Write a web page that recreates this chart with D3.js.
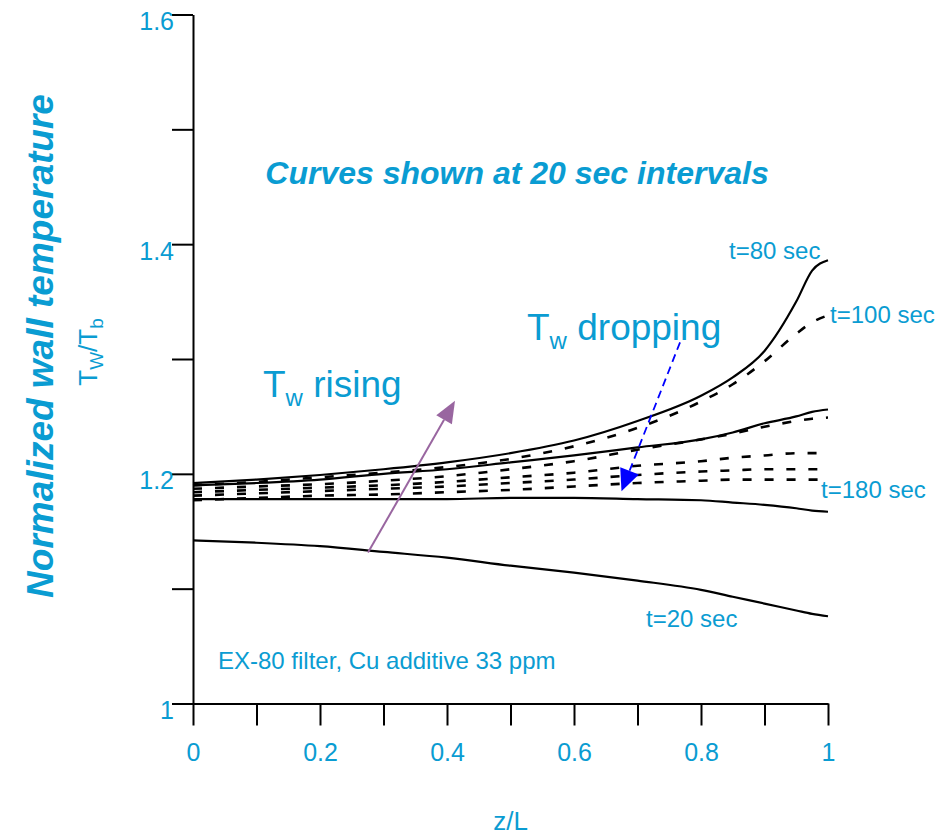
<!DOCTYPE html>
<html>
<head>
<meta charset="utf-8">
<script src="https://cdn.jsdelivr.net/npm/d3@7"></script>
<style>
  body { margin: 0; background: #fff; }
  text { font-family: "Liberation Sans", Arial, sans-serif; }
</style>
</head>
<body>
<div id="chart"></div>
<script>
// z/L positions shared by every curve
var zGrid = [0, 0.1, 0.2, 0.3, 0.4, 0.5, 0.6, 0.7, 0.8, 0.85, 0.9, 0.95, 0.975, 1]

// Tw/Tb, one array per time step
var t20  = [1.142, 1.140, 1.137, 1.132, 1.127, 1.120, 1.114, 1.107, 1.099, 1.093, 1.087, 1.081, 1.078, 1.076]
var t40  = [1.178, 1.178, 1.178, 1.178, 1.178, 1.179, 1.179, 1.178, 1.177, 1.175, 1.173, 1.170, 1.168, 1.167]
var t60  = [1.190, 1.192, 1.195, 1.200, 1.204, 1.210, 1.216, 1.223, 1.230, 1.236, 1.244, 1.250, 1.254, 1.256]
var t80  = [1.192, 1.195, 1.199, 1.204, 1.210, 1.218, 1.229, 1.246, 1.268, 1.284, 1.307, 1.350, 1.377, 1.386]
var t100 = [1.190, 1.193, 1.197, 1.201, 1.206, 1.213, 1.224, 1.240, 1.263, 1.278, 1.298, 1.322, 1.332, 1.338]
var t120 = [1.187, 1.189, 1.191, 1.194, 1.198, 1.204, 1.211, 1.221, 1.230, 1.235, 1.241, 1.246, 1.248, 1.249]
var t140 = [1.184, 1.186, 1.188, 1.190, 1.193, 1.197, 1.201, 1.207, 1.211, 1.214, 1.216, 1.218, 1.218, 1.218]
var t160 = [1.181, 1.183, 1.185, 1.187, 1.189, 1.192, 1.195, 1.199, 1.202, 1.203, 1.204, 1.204, 1.204, 1.204]
var t180 = [1.177, 1.179, 1.181, 1.182, 1.184, 1.186, 1.189, 1.192, 1.194, 1.195, 1.195, 1.195, 1.195, 1.195]

var solidSeries = [t20, t40, t60, t80]
var dashedSeries = [t100, t120, t140, t160, t180]

var xTicks = d3.range(0, 1.0001, 0.1)
var xTickLabels = ['0', '', '0.2', '', '0.4', '', '0.6', '', '0.8', '', '1']
var yTicks = [1, 1.1, 1.2, 1.3, 1.4, 1.5, 1.6]
var yTickLabels = ['1', '', '1.2', '', '1.4', '', '1.6']

// arrows in data units: [z, Tw/Tb] start -> tip
var risingArrow = [[0.2756, 1.1314], [0.4126, 1.2637]]
var droppingArrow = [[0.767, 1.3145], [0.6748, 1.1848]]

var blue = '#0a9cd2'
var width = 937, height = 837

var svg = d3.select('#chart').append('svg')
  .attr('width', width)
  .attr('height', height)

var xMap = d3.scaleLinear().domain([0, 1]).range([193, 828])
var yMap = d3.scaleLinear().domain([1, 1.6]).range([703.5, 14.5])

var g = svg.append('g')

// axes
var xAxis = d3.axisBottom(xMap)
  .tickValues(xTicks)
  .tickSize(22)
  .tickSizeOuter(0)
  .tickFormat((d, i) => xTickLabels[i])

var gX = g.append('g')
  .attr('transform', 'translate(0,' + yMap(1) + ')')
  .call(xAxis)
gX.select('.domain').style('stroke', '#000').style('stroke-width', 2)
gX.selectAll('.tick line').style('stroke', '#000').style('stroke-width', 2)
gX.selectAll('.tick text')
  .attr('y', 57)
  .attr('dy', 0)
  .style('font-size', '25px')
  .style('fill', blue)

var yAxis = d3.axisLeft(yMap)
  .tickValues(yTicks)
  .tickSize(21)
  .tickSizeOuter(0)
  .tickFormat((d, i) => yTickLabels[i])

var gY = g.append('g')
  .attr('transform', 'translate(' + xMap(0) + ',0)')
  .call(yAxis)
gY.select('.domain').style('stroke', '#000').style('stroke-width', 2)
gY.selectAll('.tick line').style('stroke', '#000').style('stroke-width', 2)
gY.selectAll('.tick text')
  .attr('x', -19)
  .attr('dy', 15)
  .style('font-size', '25px')
  .style('fill', blue)

// curves
var line = d3.line()
  .x((d, i) => xMap(zGrid[i]))
  .y(d => yMap(d))
  .curve(d3.curveMonotoneX)

g.selectAll('.solid')
  .data(solidSeries)
  .enter().append('path')
  .attr('class', 'solid')
  .attr('d', line)
  .style('fill', 'none')
  .style('stroke', '#000')
  .style('stroke-width', 2.2)

g.selectAll('.dashed')
  .data(dashedSeries)
  .enter().append('path')
  .attr('class', 'dashed')
  .attr('d', line)
  .style('fill', 'none')
  .style('stroke', '#000')
  .style('stroke-width', 2.6)
  .style('stroke-dasharray', '9,13')

// arrows
function drawArrow(pts, color, dash, lw, headLen, headHalf) {
  var x0 = xMap(pts[0][0]), y0 = yMap(pts[0][1])
  var x1 = xMap(pts[1][0]), y1 = yMap(pts[1][1])
  var dx = x1 - x0, dy = y1 - y0
  var len = Math.sqrt(dx * dx + dy * dy)
  var ux = dx / len, uy = dy / len
  var bx = x1 - ux * headLen, by = y1 - uy * headLen

  g.append('line')
    .attr('x1', x0).attr('y1', y0)
    .attr('x2', bx).attr('y2', by)
    .style('stroke', color)
    .style('stroke-width', lw)
    .style('stroke-dasharray', dash)

  g.append('path')
    .attr('d', 'M' + [x1, y1] + 'L' + [bx - uy * headHalf, by + ux * headHalf] +
      'L' + [bx + uy * headHalf, by - ux * headHalf] + 'Z')
    .style('fill', color)
}

drawArrow(risingArrow, '#9966a0', null, 2, 22, 9)
drawArrow(droppingArrow, '#0000ff', '8,5', 1.8, 22, 10)

// texts
g.append('text')
  .attr('x', 517)
  .attr('y', 184)
  .style('text-anchor', 'middle')
  .style('font-size', '32px')
  .style('font-weight', 'bold')
  .style('font-style', 'italic')
  .style('fill', blue)
  .text('Curves shown at 20 sec intervals')

function twLabel(x, y, rest) {
  var t = g.append('text')
    .attr('x', x)
    .attr('y', y)
    .style('font-size', '37px')
    .style('fill', blue)
  t.append('tspan').text('T')
  t.append('tspan').attr('dy', 9).style('font-size', '24px').text('w')
  t.append('tspan').attr('dy', -9).text(' ' + rest)
}
twLabel(263, 397, 'rising')
twLabel(527, 340, 'dropping')

var curveLabels = [
  { text: 't=80 sec', x: 729, y: 259 },
  { text: 't=100 sec', x: 830, y: 323 },
  { text: 't=180 sec', x: 821, y: 498 },
  { text: 't=20 sec', x: 646, y: 627 },
  { text: 'EX-80 filter, Cu additive 33 ppm', x: 218, y: 669 }
]

g.selectAll('.clabel')
  .data(curveLabels)
  .enter().append('text')
  .attr('class', 'clabel')
  .attr('x', d => d.x)
  .attr('y', d => d.y)
  .style('font-size', '24px')
  .style('fill', blue)
  .text(d => d.text)

g.append('text')
  .attr('x', xMap(0.5))
  .attr('y', 830)
  .style('text-anchor', 'middle')
  .style('font-size', '26px')
  .style('fill', blue)
  .text('z/L')

g.append('text')
  .attr('transform', 'translate(53,346) rotate(-90)')
  .style('text-anchor', 'middle')
  .style('font-size', '37px')
  .style('font-weight', 'bold')
  .style('font-style', 'italic')
  .style('fill', blue)
  .text('Normalized wall temperature')

var tr = g.append('text')
  .attr('transform', 'translate(97,352) rotate(-90)')
  .style('text-anchor', 'middle')
  .style('font-size', '26px')
  .style('fill', blue)
tr.append('tspan').text('T')
tr.append('tspan').attr('dy', 6).style('font-size', '19px').text('W')
tr.append('tspan').attr('dy', -6).text('/T')
tr.append('tspan').attr('dy', 6).style('font-size', '19px').text('b')
</script>
</body>
</html>
